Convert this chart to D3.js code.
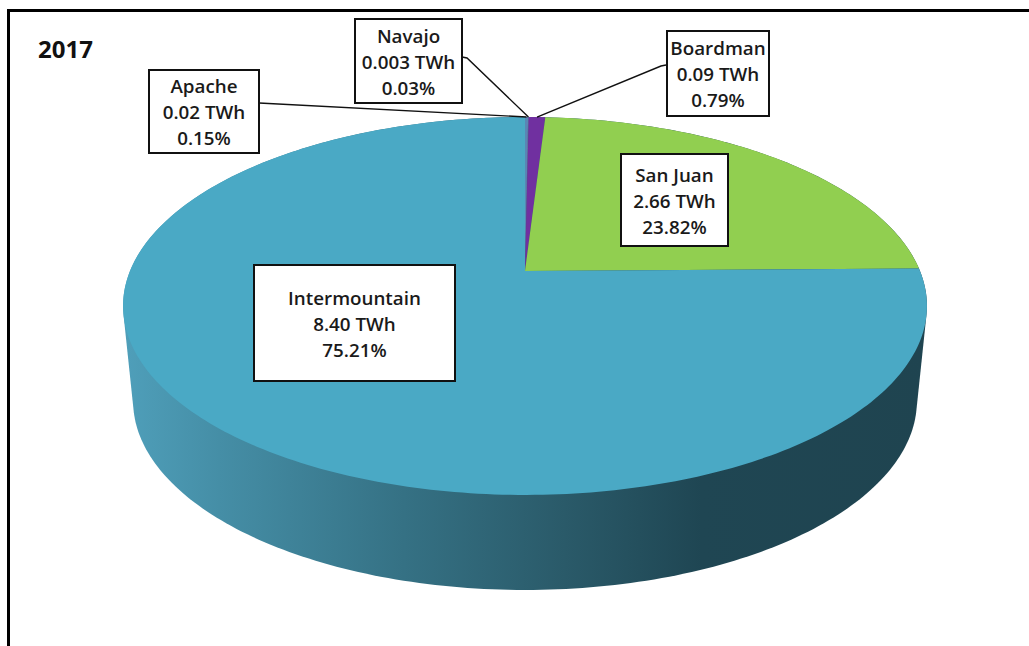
<!DOCTYPE html>
<html><head><meta charset="utf-8">
<script src="https://cdn.jsdelivr.net/npm/d3@7"></script>
<style>html,body{margin:0;padding:0;background:#fff}svg{display:block}</style></head>
<body><svg id="c" width="1029" height="646"></svg>
<script>
const yearLabel = "2017";
const plants = ["Apache","Navajo","Boardman","San Juan","Intermountain"];
const twh = ["0.02 TWh","0.003 TWh","0.09 TWh","2.66 TWh","8.40 TWh"];
const percents = [0.15,0.03,0.79,23.82,75.21];
const colors = ["#5a86b4","#7f6fb0","#7030a0","#91cf50","#4aa9c5"];

const svg = d3.select("#c");
const font = "'Open Sans',sans-serif";

// perspective projection of the unit disc; z=0 top face, z=1 bottom face
const cx = 525, cyTop = 271, ax = 395, by = 182.5, k = 0.185, depth = 95;
const project = (ang, z) => {
  const u = Math.sin(ang), v = Math.cos(ang);
  const sx = 1 - 0.025*z;
  const w = 1 + k*v;
  return [cx + sx*ax*u/w, cyTop - by*v/w + z*depth];
};
const pie = d3.pie().sort(null).value(d=>d);
const arcs = pie(percents);
const line = d3.line();

const grad = svg.append("defs").append("linearGradient").attr("id","wall").attr("gradientUnits","userSpaceOnUse")
  .attr("x1",123).attr("x2",926).attr("y1",0).attr("y2",0);
[[0,"#4f9fba"],[0.12,"#458ea6"],[0.35,"#357184"],[0.55,"#2a5a69"],[0.72,"#1f4653"],[1,"#1f4450"]]
  .forEach(s=>grad.append("stop").attr("offset",s[0]).attr("stop-color",s[1]));

// frame
const frame = d3.path(); frame.moveTo(8.5,646); frame.lineTo(8.5,10.5); frame.lineTo(1029,10.5);
svg.append("path").attr("d",frame.toString()).attr("fill","none").attr("stroke","#000").attr("stroke-width",3);

// wall: silhouette of the top and bottom faces
const allAngles = d3.range(0,360,1).map(d=>d*Math.PI/180);
const hull = d3.polygonHull(allAngles.map(a=>project(a,0)).concat(allAngles.map(a=>project(a,1))));
svg.append("path").attr("d",line(hull)+"Z").attr("fill","url(#wall)");

// top slices
svg.append("g").selectAll("path").data(arcs).join("path")
  .attr("d",d=>{
    const n = Math.max(2,Math.ceil((d.endAngle-d.startAngle)*60));
    const pts = [[cx,cyTop]];
    for(let i=0;i<=n;i++) pts.push(project(d.startAngle+(d.endAngle-d.startAngle)*i/n,0));
    return line(pts)+"Z";
  })
  .attr("fill",(d,i)=>colors[i]);

// leaders
const leaderFrom = [[259,103],[462,57],[666,65]];
const leaderVia = [null,[467,58],[661,66]];
[0,1,2].forEach(i=>{
  const p = project((arcs[i].startAngle+arcs[i].endAngle)/2,0);
  const pts = [leaderFrom[i]]; if(leaderVia[i]) pts.push(leaderVia[i]);
  pts.push([p[0],p[1]]);
  svg.append("path").attr("d",line(pts)).attr("fill","none").attr("stroke","#111").attr("stroke-width",1.4);
});

// label boxes
const boxX = [149,355,667,621,254], boxY=[70,19,31,154,265], boxW=[110,107,102,107,201], boxH=[83,84,85,92,116];
const lineGap = 26.2;
plants.forEach((p,i)=>{
  const g = svg.append("g");
  g.append("rect").attr("x",boxX[i]).attr("y",boxY[i]).attr("width",boxW[i]).attr("height",boxH[i])
    .attr("fill","#fff").attr("stroke","#111").attr("stroke-width",2);
  [p,twh[i],percents[i].toFixed(2)+"%"].forEach((t,j)=>{
    g.append("text").attr("x",boxX[i]+boxW[i]/2).attr("y",boxY[i]+boxH[i]/2+(j-1)*lineGap+7.7)
      .attr("text-anchor","middle").attr("font-family",font).attr("font-weight",600)
      .attr("font-size",18.8).attr("fill","#1a1a1a").text(t);
  });
});
svg.append("text").attr("x",38).attr("y",58).attr("font-family",font).attr("font-weight",700).attr("font-size",24).attr("fill","#111").text(yearLabel);
</script></body></html>
